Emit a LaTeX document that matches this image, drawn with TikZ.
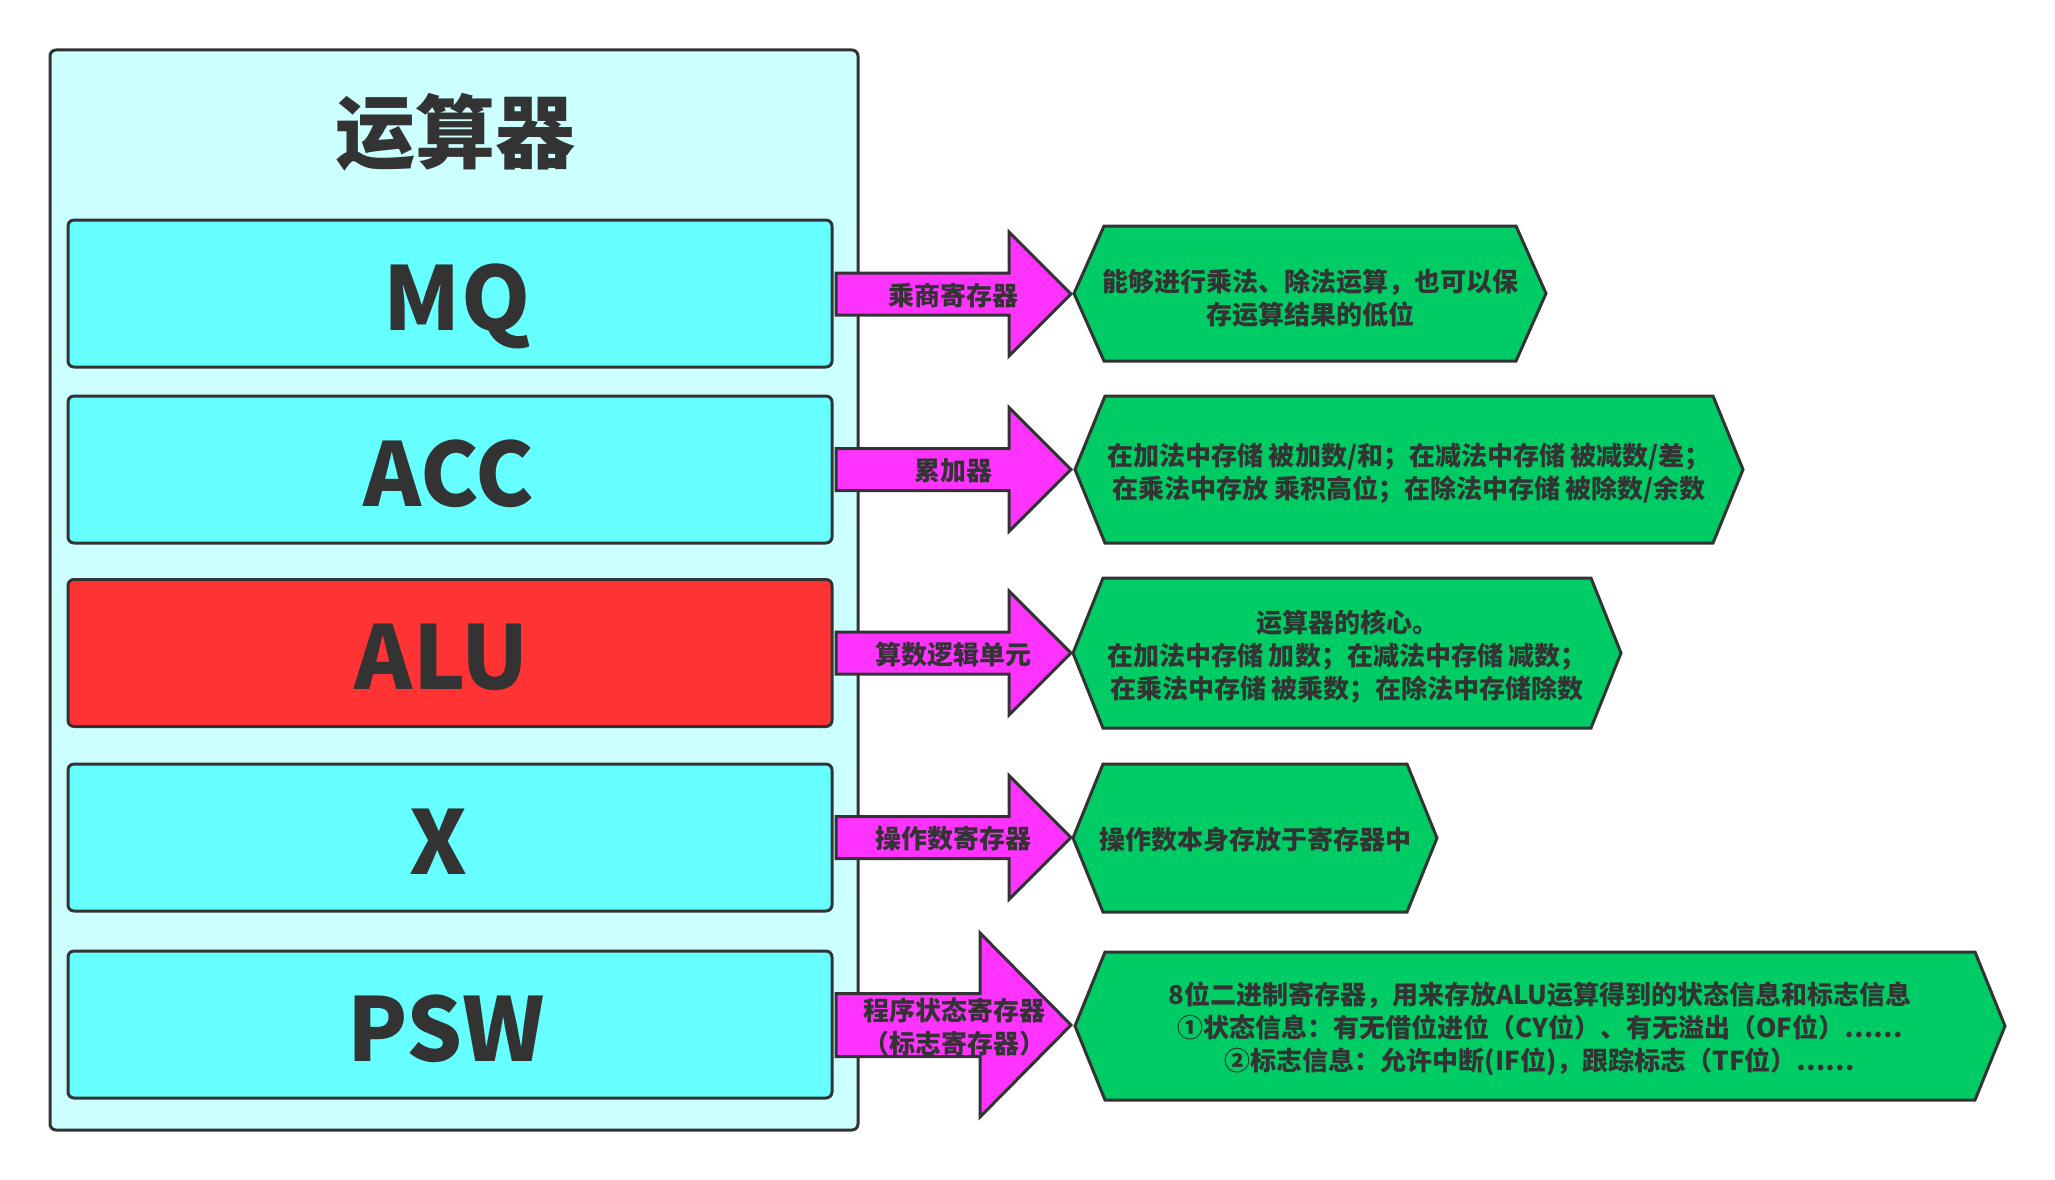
\documentclass[tikz,border=0pt]{standalone}
\usepackage{fontspec}
\setmainfont{Noto Sans CJK SC}
\definecolor{ink}{HTML}{333333}
\definecolor{outerc}{HTML}{CCFFFF}
\definecolor{cyanc}{HTML}{66FFFF}
\definecolor{redc}{HTML}{FF3333}
\definecolor{magc}{HTML}{FF33FF}
\definecolor{grnc}{HTML}{00CC66}
\newcommand\myarrow[4]{%
  \draw[frame,fill=magc] (836,{#1-#2}) -- (#4,{#1-#2}) -- (#4,{#1-#3}) -- (1071,#1) -- (#4,{#1+#3}) -- (#4,{#1+#2}) -- (836,{#1+#2}) -- cycle;}
\newcommand\myhex[4]{%
  \draw[frame,fill=grnc] (#1,{(#3+#4)/2}) -- ({#1+30},#3) -- ({#2-30},#3) -- (#2,{(#3+#4)/2}) -- ({#2-30},#4) -- ({#1+30},#4) -- cycle;}
\begin{document}
\begin{tikzpicture}[x=1pt,y=-1pt,
  frame/.style={draw=ink,line width=3pt,line join=miter},
  regbox/.style={draw=ink,line width=3pt,rounded corners=6pt,minimum width=764pt,minimum height=147pt,inner sep=0pt},
  bigtxt/.style={text=ink,inner sep=0pt,text height=64pt,text depth=0pt,font=\fontsize{88}{88}\selectfont\bfseries},
  txt/.style={text=ink,inner sep=0pt,align=center,font=\fontsize{26}{33}\selectfont\bfseries}]
\useasboundingbox (0,0) rectangle (2055,1180);
\draw[frame,fill=outerc,rounded corners=6pt] (50,50) rectangle (858,1130);
\node[text=ink,inner sep=0pt,font=\fontsize{80}{80}\selectfont\bfseries] (title) at (455,132) {运算器};
\node[regbox,fill=cyanc] (mq) at (450,293.5) {};
\node[regbox,fill=cyanc] (acc) at (450,469.5) {};
\node[regbox,fill=redc] (alu) at (450,653) {};
\node[regbox,fill=cyanc] (xr) at (450,837.5) {};
\node[regbox,fill=cyanc] (psw) at (450,1024.5) {};
\node[bigtxt] (mqt) at (457,298) {MQ};
\node[bigtxt] (acct) at (449,474) {ACC};
\node[bigtxt] (alut) at (442,657) {ALU};
\node[bigtxt] (xrt) at (438,842) {X};
\node[bigtxt] (pswt) at (446,1029) {PSW};
% arrows
\myarrow{294}{21}{62}{1009}
\myarrow{469.5}{21}{62}{1009}
\myarrow{653}{21}{62}{1009}
\myarrow{837.5}{21}{62}{1009}
\myarrow{1025}{31.5}{92}{980}
\node[txt] (a1) at (953,296) {乘商寄存器};
\node[txt] (a2) at (953,471) {累加器};
\node[txt] (a3) at (953,655) {算数逻辑单元};
\node[txt] (a4) at (953,839) {操作数寄存器};
\node[txt] (a5) at (954,1027) {程序状态寄存器\\（标志寄存器）};
% hexagons
\myhex{1074}{1546}{226}{361}
\myhex{1075}{1743}{396}{543}
\myhex{1073}{1621}{578}{728}
\myhex{1073}{1437}{764}{912}
\myhex{1075}{2005}{952}{1100}
\node[txt] (h1) at (1310,298) {能够进行乘法、除法运算，也可以保\\存运算结果的低位};
\node[txt] (h2) at (1409,473) {在加法中存储 被加数/和；在减法中存储 被减数/差；\\在乘法中存放 乘积高位；在除法中存储 被除数/余数};
\node[txt] (h3) at (1347,657) {运算器的核心。\\在加法中存储 加数；在减法中存储 减数；\\在乘法中存储 被乘数；在除法中存储除数};
\node[txt] (h4) at (1255,840) {操作数本身存放于寄存器中};
\node[txt] (h5) at (1540,1029) {8位二进制寄存器，用来存放ALU运算得到的状态信息和标志信息\\①状态信息：有无借位进位（CY位）、有无溢出（OF位）……\\②标志信息：允许中断(IF位)，跟踪标志（TF位）……};
\end{tikzpicture}
\end{document}
